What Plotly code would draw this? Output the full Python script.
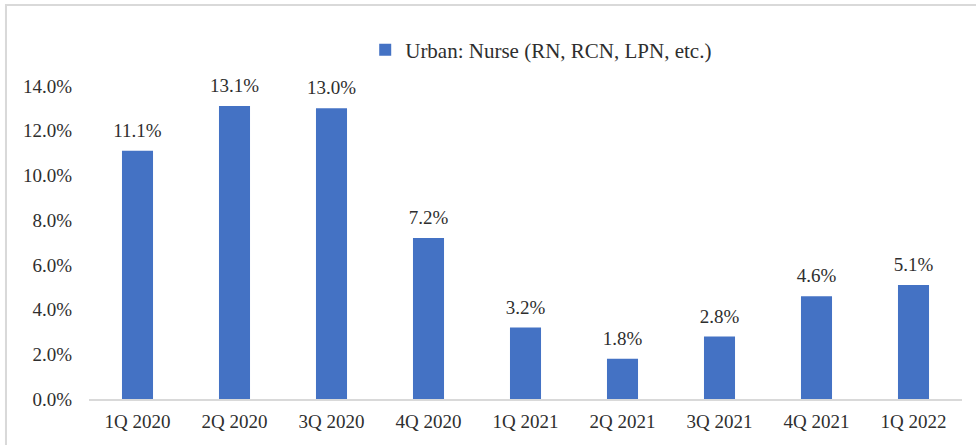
import plotly.graph_objects as go

categories = ["1Q 2020", "2Q 2020", "3Q 2020", "4Q 2020", "1Q 2021",
              "2Q 2021", "3Q 2021", "4Q 2021", "1Q 2022"]
values = [0.111, 0.131, 0.130, 0.072, 0.032, 0.018, 0.028, 0.046, 0.051]
series_name = "Urban: Nurse (RN, RCN, LPN, etc.)"
y_ticks = [0, 0.02, 0.04, 0.06, 0.08, 0.10, 0.12, 0.14]

FONT = "Liberation Serif, Times New Roman, serif"
TXT = "#2e2e2e"

fig = go.Figure()
fig.add_trace(go.Bar(
    x=categories, y=values, name=series_name,
    marker=dict(color="#4472C4", line=dict(width=0)),
    showlegend=True, hoverinfo="x+y",
))
fig.add_trace(go.Scatter(
    x=categories, y=values, mode="markers+text",
    marker=dict(size=13, opacity=0),
    text=[f"{v*100:.1f}%" for v in values],
    textposition="top center", cliponaxis=False,
    textfont=dict(family=FONT, size=19, color=TXT),
    showlegend=False, hoverinfo="skip",
))

fig.update_layout(
    width=976, height=445,
    margin=dict(l=89, r=14, t=86, b=46, autoexpand=False),
    paper_bgcolor="white", plot_bgcolor="white",
    font=dict(family=FONT, size=19, color=TXT),
    bargap=0.68,
    showlegend=True,
    legend=dict(orientation="h", x=0.518, xanchor="center", y=1.115, yanchor="middle",
                font=dict(family=FONT, size=21, color=TXT), itemwidth=30,
                bgcolor="rgba(0,0,0,0)"),
    xaxis=dict(range=[-0.5, len(categories) - 0.5], showline=True, linecolor="#D9D9D9",
               linewidth=2, ticks="", showgrid=False, automargin=False,
               ticklabelstandoff=4, tickfont=dict(size=19, color=TXT)),
    yaxis=dict(range=[0, 0.14], tickvals=y_ticks, tickformat=".1%",
               showgrid=False, zeroline=False, showline=False, ticks="", automargin=False,
               ticklabelstandoff=16, tickfont=dict(size=19, color=TXT)),
    shapes=[dict(type="rect", xref="paper", yref="paper",
                 x0=-0.0951, x1=1.05, y0=-0.3, y1=1.2588,
                 line=dict(color="#D9D9D9", width=2), fillcolor="rgba(0,0,0,0)",
                 layer="below")],
)

fig.write_html("out.html", config={"displayModeBar": False},
               post_script="document.body.style.margin='0';")
